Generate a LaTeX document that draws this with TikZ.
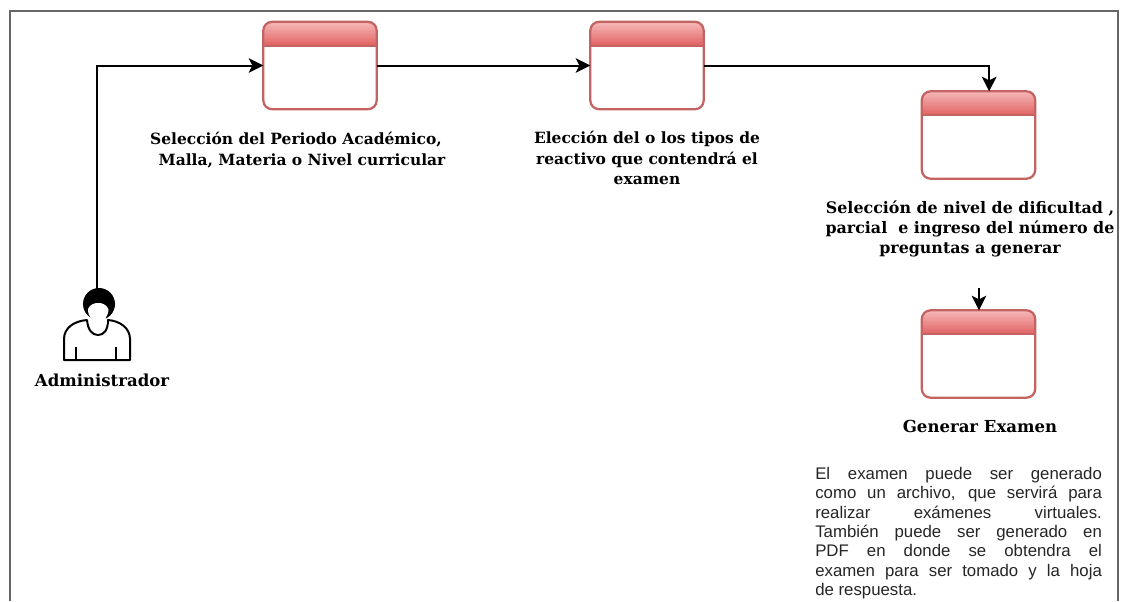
\documentclass[tikz,border=0pt]{standalone}
\usepackage{fontspec}
\setmainfont{DejaVu Serif}
\newfontfamily\bodyfont{Liberation Sans}
\usetikzlibrary{arrows.meta}
\definecolor{boxedge}{HTML}{C46462}
\definecolor{headtop}{HTML}{F5B8B8}
\definecolor{headbot}{HTML}{E26464}
\definecolor{framegray}{HTML}{666666}
\tikzset{
  x=0.75pt,y=-0.75pt,
  winbox/.style={draw=boxedge,line width=1.7pt,rounded corners=6.5pt,fill=white,
    minimum width=85pt,minimum height=65.5pt,inner sep=0pt,outer sep=0pt,
    path picture={
      \foreach \p in {0,1,...,17}{
        \pgfmathsetmacro{\mixp}{\p*100/17}
        \fill[sharp corners,headbot!\mixp!headtop]
          ([yshift=-\p pt]path picture bounding box.north west) rectangle
          ([yshift=-18pt]path picture bounding box.north east);
      }
      \draw[sharp corners,boxedge,line width=1.7pt]
        ([yshift=-18pt]path picture bounding box.north west) --
        ([yshift=-18pt]path picture bounding box.north east);
    }},
  flow/.style={draw=black,line width=1.5pt,-{Stealth[length=11pt,width=11pt,inset=2.8pt]}},
  caption/.style={align=center,font=\fontsize{11.6}{15.2}\selectfont\bfseries,inner sep=0pt,text=black},
  bigcaption/.style={caption,font=\fontsize{12.4}{15.2}\selectfont\bfseries},
  actorline/.style={draw=black,line width=1.5pt,line join=round},
}
\begin{document}
\begin{tikzpicture}
\useasboundingbox (0,0) rectangle (1125,601);
\fill[white] (0,0) rectangle (1125,601);
\draw[framegray,line width=0.8pt] (10,601) -- (10,11) -- (1118,11) -- (1118,601);

\node[winbox] (b1) at (320,65.5) {};
\node[winbox] (b2) at (647,65.5) {};
\node[winbox] (b3) at (978.5,135) {};
\node[winbox] (b4) at (978.5,354) {};

% actor
\coordinate (actortop) at (97,290);
\coordinate (free) at (979,288);
\draw[flow] (actortop) |- (b1.west);
\fill[black] (99,304) circle[radius=12pt];
\draw[actorline,fill=white] (64,360) -- (64,339) .. controls (64,328) and (74,321) .. (87,320)
  .. controls (88,330) and (92,335) .. (98,335) .. controls (104,335) and (108,330) .. (108,320)
  .. controls (120,321) and (130,328) .. (130,339) -- (130,360) -- cycle;
\fill[white] (88,309) .. controls (90,304) and (95,303) .. (98,303) .. controls (102,303) and (106,304) .. (108.5,309)
  .. controls (108.5,313) and (107,316) .. (105.5,318.5) .. controls (106,320) and (106.5,321) .. (107,322)
  .. controls (105,329) and (102,333.5) .. (98,333.5) .. controls (94,333.5) and (91,329) .. (89,322)
  .. controls (90,321) and (91,320) .. (91,318.5) .. controls (89,316) and (88,313) .. (88,309) -- cycle;
\draw[actorline] (76,347) -- (76,360);
\draw[actorline] (116,347) -- (116,360);

\draw[flow] (b1.east) -- (b2.west);
\draw[flow] (b2.east) -| ([xshift=8pt]b3.north);
\draw[flow] (free) -- (free |- b4.north);

\node[caption] (t1) at (296,150) {Selección del Periodo Académico,\\\hspace*{9pt}Malla, Materia o Nivel curricular};
\node[caption] (t2) at (647,158) {Elección del o los tipos de\\reactivo que contendrá el\\examen};
\node[caption,font=\fontsize{11.9}{15.2}\selectfont\bfseries] (t3) at (970,229) {Selección de nivel de dificultad ,\\parcial\ \ e ingreso del número de\\preguntas a generar};
\node[bigcaption] (t4) at (980,426) {Generar Examen};
\node[bigcaption] (t5) at (102,380) {Administrador};

\node[anchor=north west,inner sep=0pt,text width=215pt,align=justify,text=black!85,font=\bodyfont\fontsize{12.6}{14.5}\selectfont] (t6) at (815,467)
{El examen puede ser generado\linebreak
como un archivo, que servirá para\linebreak
realizar exámenes virtuales.\linebreak
También puede ser generado en\linebreak
PDF en donde se obtendra el\linebreak
examen para ser tomado y la hoja\linebreak
de respuesta.\par};
\end{tikzpicture}
\end{document}
